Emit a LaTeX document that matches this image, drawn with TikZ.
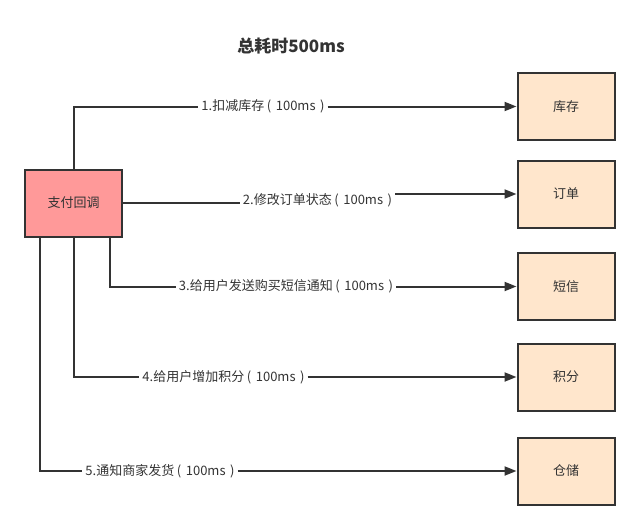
\documentclass[tikz,border=0pt]{standalone}
\usepackage{fontspec}
\setmainfont{Noto Sans CJK SC}
\usetikzlibrary{arrows.meta}
\definecolor{edge}{HTML}{333333}
\definecolor{paypink}{HTML}{FF9999}
\definecolor{peach}{HTML}{FFE6CC}
\newcommand{\cost}[1]{\hspace{.2em}(\hspace{.35em}#1\hspace{.35em})\hspace{.2em}}

\begin{document}
\begin{tikzpicture}[x=1pt,y=-1pt,
box/.style = {draw=edge,line width=2pt,minimum width=97pt,minimum height=67pt,inner sep=0pt,text=edge,font=\fontsize{13}{15}\selectfont},
svc/.style = {box,fill=peach},
tag/.style = {inner ysep=0pt,inner xsep=3pt,text=edge,font=\fontsize{13}{15}\selectfont},
link/.style = {draw=edge,line width=2pt},
arr/.style = {link,-{Triangle[length=12pt,width=9pt]}}]
\useasboundingbox (0,0) rectangle (640,530);
    \node[text=edge,font=\fontsize{17}{20}\selectfont\bfseries] (title) at (291,46) {总耗时500ms};
    \node[box,fill=paypink] (pay) at (73.5,203) {支付回调};

    \node[svc] (kucun) at (566,106.5) {库存};
    \node[svc] (dingdan) at (566,194) {订单};
    \node[svc] (duanxin) at (566,286.5) {短信};
    \node[svc] (jifen) at (566,377) {积分};
    \node[svc] (cangchu) at (566,471) {仓储};

    \node[tag] (l1) at (263,106.5) {1.扣减库存\cost{100ms}};
    \node[tag] (l2) at (317.5,200) {2.修改订单状态\cost{100ms}};
    \node[tag] (l3) at (286,286.5) {3.给用户发送购买短信通知\cost{100ms}};
    \node[tag] (l4) at (223.5,377) {4.给用户增加积分\cost{100ms}};
    \node[tag] (l5) at (160,471) {5.通知商家发货\cost{100ms}};

    \draw[link] (pay.north) |- (l1.west);
    \draw[arr] (l1.east) -- (kucun.west);
    \draw[link] (pay.east) -- (pay.east -| l2.west);
    \draw[arr] (l2.east |- dingdan.west) -- (dingdan.west);
    \draw[link] ([xshift=36.5pt]pay.south) |- (l3.west);
    \draw[arr] (l3.east) -- (duanxin.west);
    \draw[link] (pay.south) |- (l4.west);
    \draw[arr] (l4.east) -- (jifen.west);
    \draw[link] ([xshift=-33.5pt]pay.south) |- (l5.west);
    \draw[arr] (l5.east) -- (cangchu.west);

\end{tikzpicture}
\end{document}
